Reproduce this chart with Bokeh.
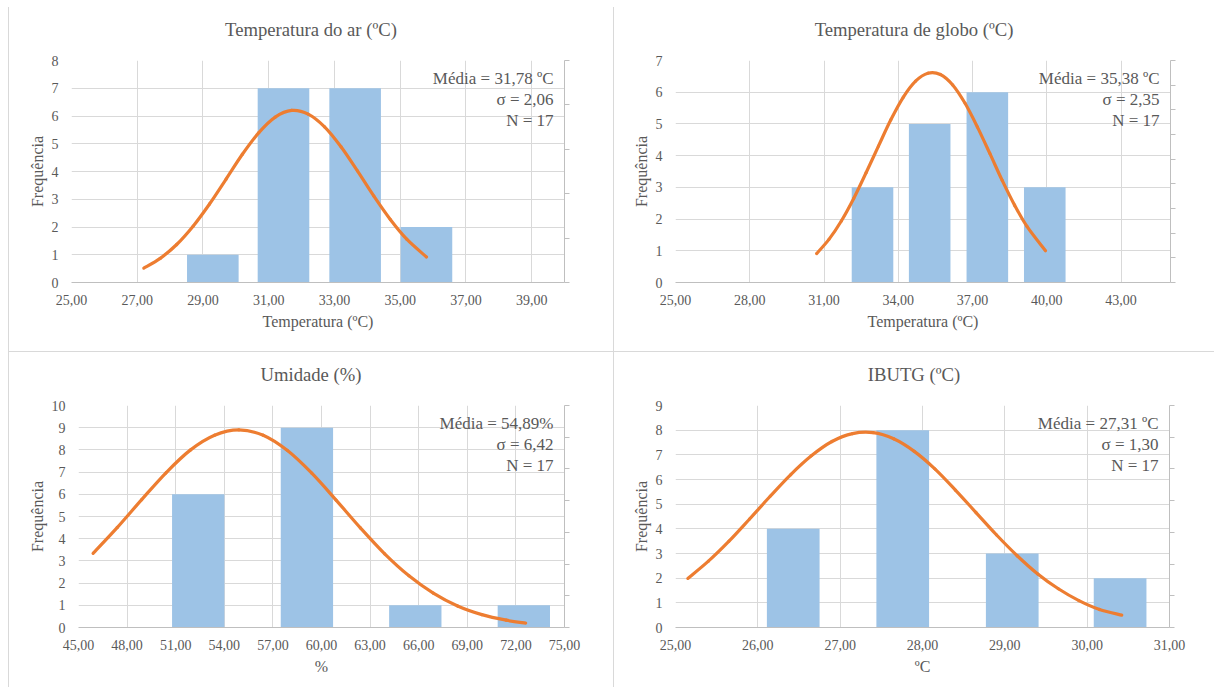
from bokeh.plotting import figure
from bokeh.models import Range1d, LinearAxis, FixedTicker, Label, Spacer, CustomJSTickFormatter, Div
from bokeh.layouts import row, column
from bokeh.embed import file_html
from bokeh.resources import INLINE

# ---------------- data ----------------
# Panel 1: Temperatura do ar
ar_centers = [29.30, 31.45, 33.63, 35.80]
ar_freq = [1, 7, 7, 2]
ar_curve_x = [27.2, 27.7, 28.2, 28.7, 29.2, 29.7, 30.2, 30.7, 31.2, 31.7, 32.2, 32.7, 33.2, 33.7, 34.2, 34.7, 35.2, 35.8]
ar_curve_y = [0.52, 0.87, 1.37, 2.03, 2.83, 3.72, 4.62, 5.40, 5.96, 6.20, 6.07, 5.61, 4.89, 4.02, 3.11, 2.27, 1.56, 0.92]
ar_xticks = [25, 27, 29, 31, 33, 35, 37, 39]
ar_stats = ["Média = 31,78 ºC", "σ = 2,06", "N = 17"]

# Panel 2: Temperatura de globo
gl_centers = [32.96, 35.27, 37.60, 39.92]
gl_freq = [3, 5, 6, 3]
gl_curve_x = [30.7, 31.2, 31.7, 32.2, 32.7, 33.2, 33.7, 34.2, 34.7, 35.2, 35.7, 36.2, 36.7, 37.2, 37.7, 38.2, 38.7, 39.2, 39.95]
gl_curve_y = [0.91, 1.36, 1.94, 2.65, 3.46, 4.30, 5.13, 5.84, 6.35, 6.60, 6.56, 6.23, 5.65, 4.90, 4.07, 3.22, 2.44, 1.77, 1.00]
gl_xticks = [25, 28, 31, 34, 37, 40, 43]
gl_stats = ["Média = 35,38 ºC", "σ = 2,35", "N = 17"]

# Panel 3: Umidade
um_centers = [52.39, 59.10, 65.79, 72.49]
um_freq = [6, 9, 1, 1]
um_curve_x = [45.9, 47.4, 48.9, 50.4, 51.9, 53.4, 54.9, 56.4, 57.9, 59.4, 60.9, 62.4, 63.9, 65.4, 66.9, 68.4, 69.9, 71.4, 72.6]
um_curve_y = [3.34, 4.51, 5.76, 6.97, 7.99, 8.66, 8.90, 8.66, 7.97, 6.95, 5.74, 4.49, 3.32, 2.33, 1.55, 0.97, 0.58, 0.33, 0.20]
um_xticks = [45, 48, 51, 54, 57, 60, 63, 66, 69, 72, 75]
um_stats = ["Média = 54,89%", "σ = 6,42", "N = 17"]

# Panel 4: IBUTG
ib_centers = [26.43, 27.76, 29.09, 30.40]
ib_freq = [4, 8, 3, 2]
ib_curve_x = [25.15, 25.4, 25.65, 25.9, 26.15, 26.4, 26.65, 26.9, 27.15, 27.4, 27.65, 27.9, 28.15, 28.4, 28.65, 28.9, 29.15, 29.4, 29.65, 29.9, 30.15, 30.42]
ib_curve_y = [1.99, 2.69, 3.50, 4.40, 5.32, 6.20, 6.96, 7.54, 7.86, 7.90, 7.65, 7.14, 6.43, 5.57, 4.66, 3.75, 2.91, 2.17, 1.57, 1.09, 0.73, 0.50]
ib_xticks = [25, 26, 27, 28, 29, 30, 31]
ib_stats = ["Média = 27,31 ºC", "σ = 1,30", "N = 17"]

FONT = "Liberation Serif"
TXT = "#595959"
GRID = "#d9d9d9"
AXL = "#bfbfbf"
BAR = "#9dc3e6"
LINE = "#ed7d31"
TITLE_H = 46


def smooth_segments(xs, ys):
    """Bezier control points for a smoothed line through the given points (Excel-style smoothing)."""
    n = len(xs)
    x0, y0, x1, y1, cx0, cy0, cx1, cy1 = [], [], [], [], [], [], [], []
    for i in range(n - 1):
        xm, ym = (xs[i - 1], ys[i - 1]) if i > 0 else (xs[i], ys[i])
        xp, yp = (xs[i + 2], ys[i + 2]) if i + 2 < n else (xs[i + 1], ys[i + 1])
        x0.append(xs[i]); y0.append(ys[i])
        x1.append(xs[i + 1]); y1.append(ys[i + 1])
        cx0.append(xs[i] + (xs[i + 1] - xm) / 6.0)
        cy0.append(ys[i] + (ys[i + 1] - ym) / 6.0)
        cx1.append(xs[i + 1] - (xp - xs[i]) / 6.0)
        cy1.append(ys[i + 1] - (yp - ys[i]) / 6.0)
    return dict(x0=x0, y0=y0, x1=x1, y1=y1, cx0=cx0, cy0=cy0, cx1=cx1, cy1=cy1)


def make_panel(title, xlabel, xr, xticks, ymax, sec_n, centers, freq, bar_w,
               cx, cy, stats, W, H, bl, br, bt, bb):
    p = figure(width=W, height=H - TITLE_H, x_range=Range1d(*xr), y_range=Range1d(0, ymax),
               output_backend="svg", toolbar_location=None,
               min_border_left=bl, min_border_right=br, min_border_top=bt - TITLE_H,
               min_border_bottom=bb, margin=0)
    p.outline_line_color = None
    p.background_fill_color = "white"
    p.border_fill_color = "white"

    xa = p.xaxis[0]
    xa.ticker = FixedTicker(ticks=xticks)
    xa.formatter = CustomJSTickFormatter(code="return tick.toFixed(2).replace('.', ',');")
    xa.major_label_text_font = FONT
    xa.major_label_text_font_size = "14px"
    xa.major_label_text_color = TXT
    xa.major_tick_out = 0
    xa.major_tick_in = 0
    xa.minor_tick_out = 0
    xa.minor_tick_in = 0
    xa.axis_line_color = AXL
    xa.major_label_standoff = 12
    xa.axis_label = xlabel
    xa.axis_label_text_font = FONT
    xa.axis_label_text_font_size = "16px"
    xa.axis_label_text_font_style = "normal"
    xa.axis_label_text_color = TXT
    xa.axis_label_standoff = 5

    ya = p.yaxis[0]
    ya.ticker = FixedTicker(ticks=list(range(0, ymax + 1)))
    ya.major_label_text_font = FONT
    ya.major_label_text_font_size = "14px"
    ya.major_label_text_color = TXT
    ya.major_tick_out = 0
    ya.major_tick_in = 0
    ya.minor_tick_out = 0
    ya.minor_tick_in = 0
    ya.axis_line_color = None
    ya.major_label_standoff = 13
    ya.axis_label = "Frequência"
    ya.axis_label_text_font = FONT
    ya.axis_label_text_font_size = "16px"
    ya.axis_label_text_font_style = "normal"
    ya.axis_label_text_color = TXT
    ya.axis_label_standoff = 3

    p.xgrid.ticker = FixedTicker(ticks=xticks)
    p.xgrid.grid_line_color = GRID
    p.ygrid.ticker = FixedTicker(ticks=list(range(0, ymax + 1)))
    p.ygrid.grid_line_color = GRID

    p.extra_y_ranges = {"sec": Range1d(0, sec_n)}
    ra = LinearAxis(y_range_name="sec", ticker=FixedTicker(ticks=list(range(sec_n + 1))),
                    formatter=CustomJSTickFormatter(code="return '';"),
                    major_tick_out=5, major_tick_in=0, minor_tick_out=0, minor_tick_in=0,
                    axis_line_color=AXL, major_tick_line_color=AXL,
                    major_label_standoff=0, major_label_text_font_size="1px")
    p.add_layout(ra, "right")

    p.vbar(x=centers, width=bar_w, top=freq, bottom=0, fill_color=BAR, line_color=None)
    seg = smooth_segments(cx, cy)
    p.bezier(source=seg, x0="x0", y0="y0", x1="x1", y1="y1", cx0="cx0", cy0="cy0",
             cx1="cx1", cy1="cy1", line_color=LINE, line_width=3.2, line_cap="round")

    offs = [18, 39, 60]
    for t, o in zip(stats, offs):
        p.add_layout(Label(x=xr[1], y=ymax, x_offset=-11, y_offset=-o, text=t,
                           text_align="right", text_baseline="middle",
                           text_font=FONT, text_font_size="17px", text_color=TXT))

    head = Div(text=title, width=W, height=TITLE_H, margin=0,
               styles={"background-color": "white", "text-align": "center",
                       "font-family": FONT, "font-size": "18.67px", "color": TXT,
                       "line-height": "46px", "overflow": "hidden"})
    return column(head, p, spacing=0, margin=0, styles={"background-color": "white"})


c1 = make_panel("Temperatura do ar (ºC)", "Temperatura (ºC)", (25, 40), ar_xticks, 8, 5,
                ar_centers, ar_freq, 1.57, ar_curve_x, ar_curve_y, ar_stats,
                604, 344, 62, 49, 53, 69)
c2 = make_panel("Temperatura de globo (ºC)", "Temperatura (ºC)", (25, 45), gl_xticks, 7, 9,
                gl_centers, gl_freq, 1.68, gl_curve_x, gl_curve_y, gl_stats,
                600, 344, 61, 44, 53, 69)
c3 = make_panel("Umidade (%)", "%", (45, 75), um_xticks, 10, 7,
                um_centers, um_freq, 3.23, um_curve_x, um_curve_y, um_stats,
                604, 335, 69, 49, 53, 60)
c4 = make_panel("IBUTG (ºC)", "ºC", (25, 31), ib_xticks, 9, 7,
                ib_centers, ib_freq, 0.64, ib_curve_x, ib_curve_y, ib_stats,
                600, 335, 61, 45, 53, 60)

grid = column(row(c1, c2, spacing=1, margin=0), row(c3, c4, spacing=1, margin=0),
              spacing=1, margin=0)
inner = row(Spacer(width=1, height=680, margin=0), grid, spacing=0, margin=0,
            styles={"background-color": GRID})
layout = column(Spacer(width=1200, height=7, margin=0),
                row(Spacer(width=8, height=680, margin=0), inner, spacing=0, margin=0),
                spacing=0, margin=0)

open("out.html", "w").write(file_html(layout, INLINE))
